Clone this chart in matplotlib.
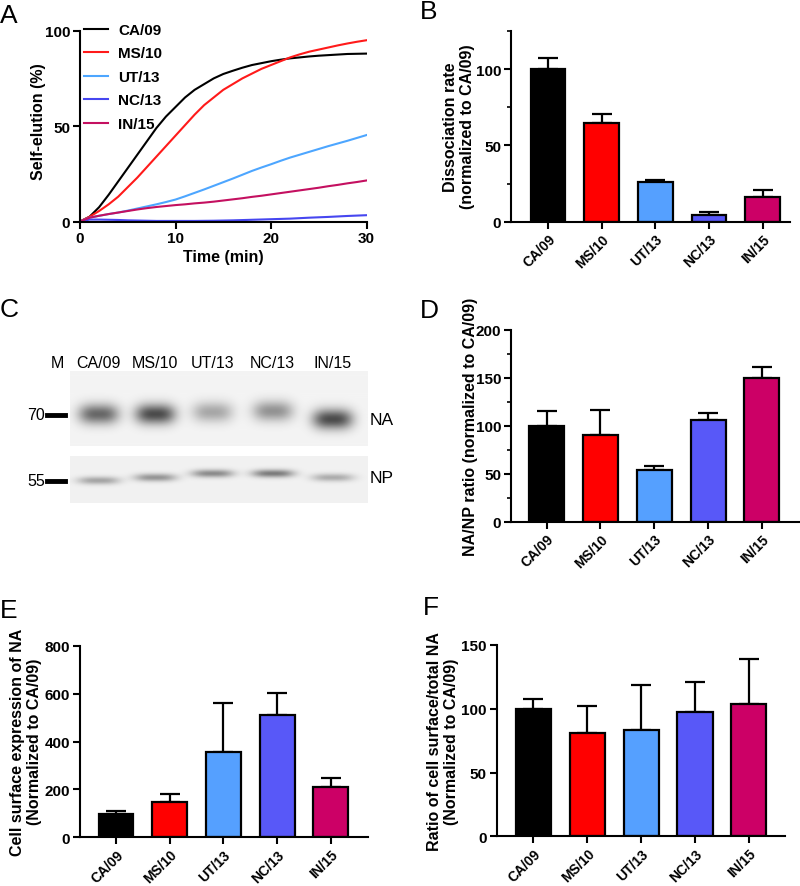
import numpy as np
import matplotlib
matplotlib.use('Agg')
import matplotlib.pyplot as plt

plt.rcParams['font.family'] = ['Liberation Sans', 'DejaVu Sans']
plt.rcParams['font.weight'] = 'bold'
plt.rcParams['axes.labelweight'] = 'bold'

W, H = 800, 887

strains = ['CA/09', 'MS/10', 'UT/13', 'NC/13', 'IN/15']
bar_colors = ['#000000', '#ff0000', '#55a0ff', '#5858f8', '#cc0066']
line_colors = ['#000000', '#ff1a1a', '#4da6ff', '#4646f0', '#c41060']

# panel A - self-elution curves (read every minute)
time_min = list(range(31))
elu_ca = [0, 2.5, 7.5, 14, 21, 28, 35, 42, 49, 55, 60, 65, 69, 72, 75, 77.3, 79, 80.6,
          82, 83, 84, 84.8, 85.5, 86, 86.5, 86.9, 87.2, 87.5, 87.8, 87.9, 88]
elu_ms = [0, 2.5, 5.5, 9, 13, 18, 23, 28.5, 34, 39.5, 45, 50.5, 56, 61, 65, 69, 72, 75,
          77.5, 80, 82, 84, 86, 87.6, 89, 90.1, 91.2, 92.3, 93.3, 94.2, 95]
elu_ut = [0, 2, 3, 3.9, 4.7, 5.7, 6.8, 7.9, 9, 10.2, 11.5, 13.2, 15, 16.8, 18.7, 20.6,
          22.5, 24.5, 26.5, 28.3, 30, 31.8, 33.5, 35, 36.5, 38, 39.5, 40.9, 42.3, 43.8, 45.3]
elu_nc = [0, 1, 1, 0.9, 0.8, 0.6, 0.5, 0.4, 0.3, 0.3, 0.3, 0.3, 0.3, 0.35, 0.4, 0.5, 0.6,
          0.75, 0.9, 1.05, 1.2, 1.35, 1.5, 1.75, 2, 2.2, 2.4, 2.65, 2.9, 3.1, 3.3]
elu_in = [0, 2, 3, 3.9, 4.7, 5.5, 6.3, 7, 7.6, 8.1, 8.6, 9, 9.5, 9.9, 10.4, 11, 11.6, 12.2,
          12.9, 13.5, 14.2, 14.9, 15.6, 16.3, 17, 17.7, 18.5, 19.2, 20, 20.7, 21.5]

# panel B
diss_rate = [100, 65, 26, 4.5, 16.5]
diss_err = [7, 5.7, 1.5, 1.7, 4.6]
# panel D
na_np = [100, 90, 54, 106, 150]
na_np_err = [15.5, 27, 4, 7.5, 11.5]
# panel E
surface = [98, 149, 358, 510, 211]
surface_err = [12, 32, 201, 92, 38]
# panel F
ratio = [100, 81, 83, 97.5, 103.5]
ratio_err = [7.7, 21, 35.4, 23.2, 35.5]

# panel C - blot band darkness and migration shift (px)
na_band = [0.55, 0.66, 0.30, 0.38, 0.66]
na_shift = [0, 0, -2, -3, 5]
np_band = [0.30, 0.36, 0.40, 0.46, 0.27]
np_shift = [3, 0, -4, -4, 0]


fig = plt.figure(figsize=(W / 100, H / 100), dpi=100)


def ax_px(l, t, r, b):
    return fig.add_axes([l / W, 1 - b / H, (r - l) / W, (b - t) / H])


def style(ax):
    for s in ['top', 'right']:
        ax.spines[s].set_visible(False)
    for s in ['left', 'bottom']:
        ax.spines[s].set_linewidth(1.5)
    ax.tick_params(width=1.5, length=5, labelsize=11, pad=2)
    ax.tick_params(which='minor', width=1.2, length=3)
    for t in ax.get_yticklabels() + ax.get_xticklabels():
        t.set_fontweight('bold')


def letter(x, y, s):
    fig.text(x / W, 1 - y / H, s, fontsize=19, fontweight='normal', ha='left', va='top')


def ylab(x, y, s):
    fig.text(x / W, 1 - y / H, s, rotation=90, ha='center', va='center',
             fontsize=11.5, fontweight='bold', multialignment='center', linespacing=1.1)


def bar_panel(ax, vals, errs, ylim, ticks, minor=None):
    x = np.arange(len(strains))
    ax.bar(x, vals, width=0.65, color=bar_colors, edgecolor='black', linewidth=1.6, zorder=2)
    ax.errorbar(x, vals, yerr=[np.zeros(len(vals)), errs], fmt='none', ecolor='black',
                elinewidth=1.6, capsize=7.5, capthick=1.6, zorder=1)
    ax.set_ylim(*ylim)
    ax.set_yticks(ticks)
    if minor is not None:
        ax.set_yticks(minor, minor=True)
    ax.set_xticks(x)
    ax.set_xticklabels(strains, rotation=45, ha='right', va='top', rotation_mode='anchor',
                       fontweight='bold', fontsize=10)
    style(ax)
    ax.tick_params(axis='x', labelsize=10)


# ---- A
axA = ax_px(80, 31.7, 366.5, 222.5)
series = [elu_ca, elu_ms, elu_ut, elu_nc, elu_in]
for name, ys, c in zip(strains, series, line_colors):
    axA.plot(time_min, ys, color=c, lw=1.5, label=name)
axA.set_xlim(0, 30)
axA.set_ylim(0, 100)
axA.set_xticks([0, 10, 20, 30])
axA.set_yticks([0, 50, 100])
axA.set_xlabel('Time (min)', fontsize=11.5, labelpad=3)
style(axA)
leg = axA.legend(loc='upper left', bbox_to_anchor=(84 / W, 1 - 24 / H), bbox_transform=fig.transFigure,
                 frameon=False, borderpad=0, borderaxespad=0, handlelength=1.55, handletextpad=0.7,
                 labelspacing=0.62, prop={'weight': 'bold', 'size': 11})
ylab(38, 122, 'Self-elution (%)')
letter(0, 4, 'A')

# ---- B
axB = ax_px(511, 32, 790, 222.7)
bar_panel(axB, diss_rate, diss_err, (0, 125), [0, 50, 100], [25, 75, 125])
axB.set_xlim(-0.69, 4.51)
ylab(459, 127, 'Dissociation rate\n(normalized to CA/09)')
letter(420, 0, 'B')

# ---- D
axD = ax_px(511, 331, 799, 522.7)
bar_panel(axD, na_np, na_np_err, (0, 200), [0, 50, 100, 150, 200], [25, 75, 125, 175])
axD.set_xlim(-0.66, 4.69)
ylab(470, 427, 'NA/NP ratio (normalized to CA/09)')
letter(420, 299, 'D')

# ---- E
axE = ax_px(80, 646.7, 368, 838.3)
bar_panel(axE, surface, surface_err, (0, 800), [0, 200, 400, 600, 800])
axE.set_xlim(-0.67, 4.69)
ylab(26, 742, 'Cell surface expression of NA\n(Normalized to CA/09)')
letter(0, 599, 'E')

# ---- F
axF = ax_px(496.7, 646, 785, 837.3)
bar_panel(axF, ratio, ratio_err, (0, 150), [0, 50, 100, 150])
axF.set_xlim(-0.68, 4.67)
ylab(443, 742, 'Ratio of cell surface/total NA\n(Normalized to CA/09)')
letter(423, 596, 'F')

# ---- C blot
letter(0, 298, 'C')
blot_l, blot_r = 70, 368
lane_frac = np.array([0.095, 0.285, 0.477, 0.68, 0.88])


def make_strip(h, w, bg, center, sig_y, half_w, dark, shift):
    yy, xx = np.mgrid[0:h, 0:w]
    img = np.full((h, w), bg)
    for lf, d, s in zip(lane_frac, dark, shift):
        cx = lf * w
        prof_x = np.exp(-(np.abs(xx - cx) / half_w) ** 3)
        prof_y = np.exp(-0.5 * ((yy - center - s) / sig_y) ** 2)
        img = img - d * prof_x * prof_y
    return np.clip(img, 0, 1)


na_t, na_b = 372, 447
np_t, np_b = 457, 504
wpx = blot_r - blot_l
axNA = ax_px(blot_l, na_t, blot_r, na_b)
axNA.imshow(make_strip(na_b - na_t, wpx, 0.955, 43, 7, 20, na_band, na_shift),
            cmap='gray', vmin=0, vmax=1, aspect='auto', interpolation='bilinear')
axNP = ax_px(blot_l, np_t, blot_r, np_b)
axNP.imshow(make_strip(np_b - np_t, wpx, 0.945, 21, 2.8, 21, np_band, np_shift),
            cmap='gray', vmin=0, vmax=1, aspect='auto', interpolation='bilinear')
for a in (axNA, axNP):
    a.axis('off')

lab_y = 1 - 363 / H
fig.text(57 / W, lab_y, 'M', fontsize=11.5, fontweight='normal', ha='center', va='center')
for lf, name in zip(lane_frac, strains):
    fig.text((blot_l + lf * wpx) / W, lab_y, name, fontsize=11.5, fontweight='normal',
             ha='center', va='center')

for mw, yp in [('70', 416), ('55', 482)]:
    fig.text(45 / W, 1 - yp / H, mw, fontsize=11.5, fontweight='normal', ha='right', va='center')
    fig.add_artist(plt.Line2D([47 / W, 65 / W], [1 - yp / H, 1 - yp / H], color='black', lw=3.5))
fig.text(370 / W, 1 - 421 / H, 'NA', fontsize=12.5, fontweight='normal', ha='left', va='center')
fig.text(370 / W, 1 - 479 / H, 'NP', fontsize=12.5, fontweight='normal', ha='left', va='center')

fig.savefig('out.png', dpi=100)
